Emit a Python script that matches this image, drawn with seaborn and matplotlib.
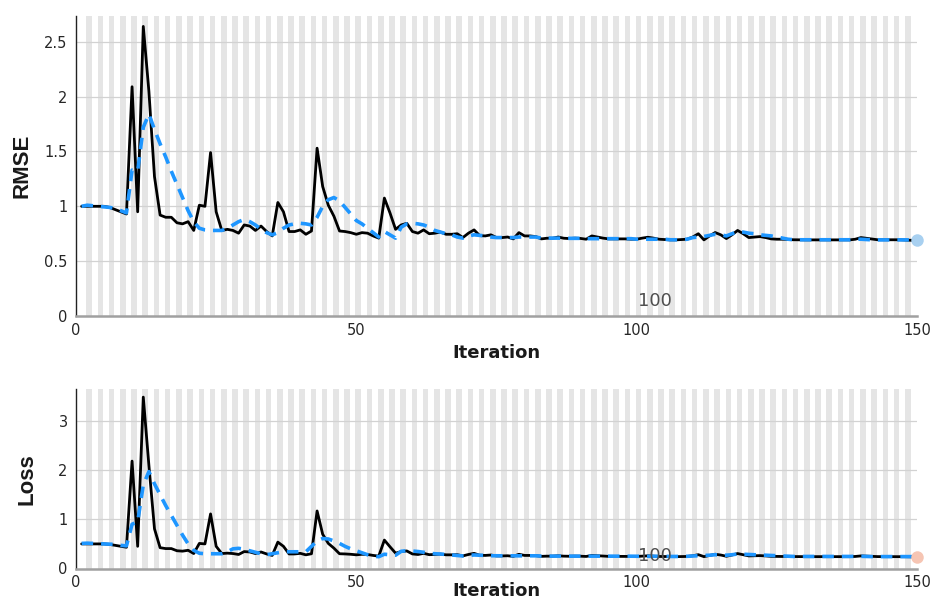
import matplotlib
matplotlib.use("Agg")
import matplotlib.pyplot as plt
import seaborn as sns
import pandas as pd

iterations = list(range(1, 151))

rmse_train = [
    1.00, 1.00, 1.00, 1.00, 1.00, 0.99, 0.97, 0.95, 0.93, 2.09,
    0.95, 2.64, 2.05, 1.27, 0.92, 0.90, 0.90, 0.85, 0.84, 0.86,
    0.78, 1.01, 1.00, 1.49, 0.95, 0.78, 0.79, 0.78, 0.755, 0.83,
    0.82, 0.78, 0.82, 0.77, 0.73, 1.035, 0.95, 0.77, 0.77, 0.785,
    0.745, 0.775, 1.53, 1.18, 1.01, 0.91, 0.775, 0.77, 0.76, 0.745,
    0.76, 0.755, 0.73, 0.71, 1.075, 0.94, 0.79, 0.83, 0.845, 0.77,
    0.755, 0.785, 0.75, 0.755, 0.765, 0.745, 0.745, 0.75, 0.715, 0.755,
    0.785, 0.733, 0.73, 0.74, 0.715, 0.715, 0.72, 0.703, 0.76, 0.73,
    0.73, 0.724, 0.703, 0.709, 0.709, 0.72, 0.709, 0.706, 0.71, 0.707,
    0.70, 0.73, 0.72, 0.71, 0.703, 0.703, 0.703, 0.703, 0.70, 0.70,
    0.71, 0.718, 0.71, 0.70, 0.697, 0.694, 0.694, 0.697, 0.70, 0.72,
    0.75, 0.694, 0.73, 0.761, 0.74, 0.706, 0.74, 0.78, 0.75, 0.715,
    0.72, 0.724, 0.715, 0.703, 0.70, 0.70, 0.697, 0.695, 0.694, 0.694,
    0.694, 0.694, 0.694, 0.694, 0.694, 0.694, 0.694, 0.694, 0.70, 0.715,
    0.708, 0.70, 0.695, 0.695, 0.695, 0.695, 0.695, 0.693, 0.69, 0.687,
]

rmse_smooth = [
    1.00, 1.01, 1.005, 1.00, 0.995, 0.99, 0.98, 0.96, 0.94, 1.33,
    1.32, 1.72, 1.84, 1.70, 1.57, 1.45, 1.32, 1.20, 1.08, 0.96,
    0.86, 0.80, 0.785, 0.78, 0.78, 0.78, 0.80, 0.83, 0.86, 0.88,
    0.86, 0.83, 0.79, 0.76, 0.74, 0.76, 0.80, 0.83, 0.84, 0.845,
    0.84, 0.83, 0.90, 1.00, 1.06, 1.08, 1.05, 0.99, 0.93, 0.87,
    0.84, 0.80, 0.76, 0.72, 0.77, 0.74, 0.71, 0.81, 0.84, 0.845,
    0.84, 0.83, 0.81, 0.78, 0.765, 0.75, 0.74, 0.72, 0.71, 0.73,
    0.74, 0.735, 0.73, 0.72, 0.715, 0.715, 0.715, 0.715, 0.72, 0.72,
    0.72, 0.72, 0.71, 0.71, 0.71, 0.71, 0.708, 0.708, 0.708, 0.708,
    0.705, 0.705, 0.705, 0.705, 0.705, 0.705, 0.705, 0.705, 0.705, 0.70,
    0.70, 0.70, 0.70, 0.70, 0.70, 0.695, 0.695, 0.695, 0.70, 0.715,
    0.72, 0.725, 0.735, 0.745, 0.74, 0.73, 0.75, 0.77, 0.765, 0.755,
    0.75, 0.74, 0.735, 0.73, 0.72, 0.71, 0.70, 0.695, 0.695, 0.695,
    0.695, 0.695, 0.695, 0.695, 0.695, 0.695, 0.695, 0.695, 0.70, 0.70,
    0.697, 0.694, 0.694, 0.694, 0.694, 0.694, 0.694, 0.694, 0.694, 0.694,
]

loss_train = [
    0.500, 0.500, 0.500, 0.500, 0.500, 0.490, 0.470, 0.451, 0.432, 2.184,
    0.451, 3.485, 2.101, 0.806, 0.423, 0.405, 0.405, 0.361, 0.353, 0.370,
    0.304, 0.510, 0.500, 1.110, 0.451, 0.304, 0.312, 0.304, 0.285, 0.344,
    0.336, 0.304, 0.336, 0.296, 0.266, 0.536, 0.451, 0.296, 0.296, 0.308,
    0.278, 0.300, 1.170, 0.696, 0.510, 0.414, 0.300, 0.296, 0.289, 0.278,
    0.289, 0.285, 0.266, 0.252, 0.578, 0.442, 0.312, 0.344, 0.357, 0.296,
    0.285, 0.308, 0.281, 0.285, 0.293, 0.278, 0.278, 0.281, 0.256, 0.285,
    0.308, 0.269, 0.266, 0.274, 0.256, 0.256, 0.259, 0.247, 0.289, 0.266,
    0.266, 0.262, 0.247, 0.251, 0.251, 0.259, 0.251, 0.249, 0.252, 0.250,
    0.245, 0.266, 0.259, 0.252, 0.247, 0.247, 0.247, 0.247, 0.245, 0.245,
    0.252, 0.258, 0.252, 0.245, 0.243, 0.241, 0.241, 0.243, 0.245, 0.259,
    0.281, 0.241, 0.266, 0.290, 0.274, 0.249, 0.274, 0.304, 0.281, 0.256,
    0.259, 0.262, 0.256, 0.247, 0.245, 0.245, 0.243, 0.242, 0.241, 0.241,
    0.241, 0.241, 0.241, 0.241, 0.241, 0.241, 0.241, 0.241, 0.245, 0.256,
    0.251, 0.245, 0.242, 0.242, 0.242, 0.242, 0.242, 0.240, 0.238, 0.236,
]

loss_smooth = [
    0.51, 0.515, 0.51, 0.505, 0.50, 0.495, 0.49, 0.47, 0.46, 0.90,
    0.95, 1.70, 1.97, 1.72, 1.50, 1.28, 1.08, 0.88, 0.68, 0.50,
    0.37, 0.31, 0.30, 0.30, 0.30, 0.30, 0.34, 0.40, 0.41, 0.39,
    0.36, 0.33, 0.30, 0.28, 0.30, 0.32, 0.34, 0.34, 0.34, 0.34,
    0.34, 0.45, 0.56, 0.61, 0.60, 0.56, 0.51, 0.45, 0.40, 0.36,
    0.32, 0.28, 0.25, 0.24, 0.29, 0.28, 0.27, 0.35, 0.36, 0.355,
    0.345, 0.33, 0.31, 0.30, 0.295, 0.285, 0.275, 0.265, 0.255, 0.265,
    0.275, 0.27, 0.265, 0.26, 0.258, 0.258, 0.258, 0.258, 0.258, 0.258,
    0.258, 0.258, 0.252, 0.252, 0.252, 0.252, 0.252, 0.252, 0.252, 0.252,
    0.25, 0.25, 0.25, 0.25, 0.25, 0.25, 0.25, 0.25, 0.25, 0.248,
    0.248, 0.248, 0.248, 0.248, 0.248, 0.245, 0.245, 0.245, 0.248, 0.255,
    0.26, 0.265, 0.27, 0.28, 0.275, 0.27, 0.28, 0.295, 0.29, 0.285,
    0.28, 0.275, 0.27, 0.265, 0.26, 0.255, 0.25, 0.245, 0.245, 0.245,
    0.245, 0.245, 0.245, 0.245, 0.245, 0.245, 0.245, 0.245, 0.248, 0.248,
    0.245, 0.242, 0.242, 0.242, 0.242, 0.242, 0.242, 0.242, 0.242, 0.242,
]

x_ticks = [0, 50, 100, 150]
rmse_ticks = [0, 0.5, 1, 1.5, 2, 2.5]
rmse_tick_labels = ["0", "0.5", "1", "1.5", "2", "2.5"]
loss_ticks = [0, 1, 2, 3]
loss_tick_labels = ["0", "1", "2", "3"]
annotation_text = "100"
annotation_x = 100.3
annotation_y_rmse = 0.09
annotation_y_loss = 0.156

df = pd.DataFrame({
    "Iteration": iterations,
    "rmse_train": rmse_train,
    "rmse_smooth": rmse_smooth,
    "loss_train": loss_train,
    "loss_smooth": loss_smooth,
})

sns.set_theme(style="white")
plt.rcParams["font.family"] = ["DejaVu Sans"]

W, H = 931, 603
fig = plt.figure(figsize=(W / 100, H / 100), dpi=100)
left = 76 / W
width = (917 - 76) / W
ax1 = fig.add_axes([left, 1 - 316 / H, width, 300 / H])
ax2 = fig.add_axes([left, 1 - 568.5 / H, width, 179.5 / H])

BLUE = "#1E96FF"
STRIPE = "#e5e5e5"
GRID = "#d2d2d2"


def style_axes(ax, ymax, yticks, yticklabels, ylabel, ylabel_x, train_col, smooth_col,
               end_color, ann_y):
    ax.set_xlim(0, 150)
    ax.set_ylim(0, ymax)
    # alternating shaded bands
    for k in range(1, 75):
        ax.axvspan(2 * k - 0.15, 2 * k + 0.85, color=STRIPE, lw=0, zorder=0)
    for t in yticks[1:]:
        ax.axhline(t, color=GRID, lw=0.9, zorder=1)
    sns.lineplot(data=df, x="Iteration", y=train_col, ax=ax, color="black",
                 lw=2.0, zorder=3)
    sns.lineplot(data=df, x="Iteration", y=smooth_col, ax=ax, color=BLUE,
                 lw=2.6, zorder=4, linestyle=(0, (3.2, 2.2)))
    ax.plot([df["Iteration"].iloc[-1]], [df[smooth_col].iloc[-1]], "o",
            ms=9, color=end_color, mec="none", zorder=5, clip_on=False)
    ax.text(annotation_x, ann_y, annotation_text, color="#505050", fontsize=13,
            ha="left", va="baseline", zorder=6)

    ax.set_xticks(x_ticks)
    ax.set_xticklabels([str(v) for v in x_ticks])
    ax.set_yticks(yticks)
    ax.set_yticklabels(yticklabels)
    ax.tick_params(axis="both", direction="in", length=5, width=1,
                   color="#333333", labelsize=10.5, labelcolor="#262626")
    ax.tick_params(axis="y", pad=6)
    ax.tick_params(axis="x", pad=5)
    for s in ("top", "right"):
        ax.spines[s].set_visible(False)
    ax.spines["left"].set_color("#222222")
    ax.spines["left"].set_linewidth(1.0)
    ax.spines["bottom"].set_color("#a0a0a0")
    ax.spines["bottom"].set_linewidth(1.8)

    ax.set_xlabel("Iteration", fontsize=13, fontweight="bold", color="#1a1a1a",
                  va="center")
    ax.set_ylabel(ylabel, fontsize=16, fontweight="bold", color="#1a1a1a",
                  va="center", family=["Liberation Sans Narrow", "Liberation Sans", "DejaVu Sans"])
    ax.yaxis.set_label_coords(ylabel_x, 0.5)
    ax.grid(False)


style_axes(ax1, 2.735, rmse_ticks, rmse_tick_labels, "RMSE", -0.0642,
           "rmse_train", "rmse_smooth", "#a8d0f0", annotation_y_rmse)
style_axes(ax2, 3.65, loss_ticks, loss_tick_labels, "Loss", -0.0577,
           "loss_train", "loss_smooth", "#f6c5b3", annotation_y_loss)
ax1.xaxis.set_label_coords(0.5, -0.123)
ax2.xaxis.set_label_coords(0.5, -0.125)

fig.savefig("out.png", dpi=100, facecolor="white")
